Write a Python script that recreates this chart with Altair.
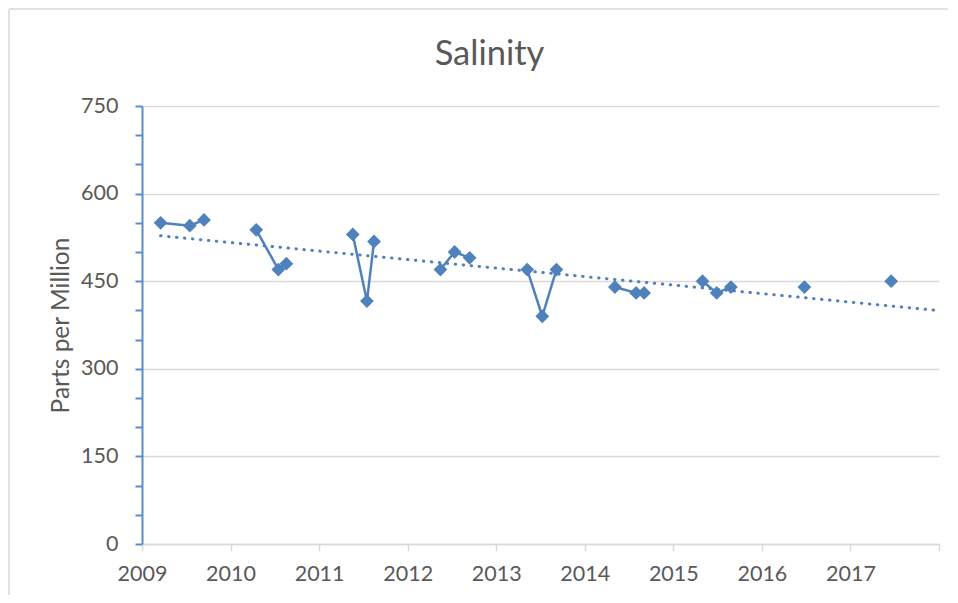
import altair as alt
import pandas as pd

# Sample dates (decimal years) and salinity values (ppm)
dates = [2009.21, 2009.54, 2009.70,
         2010.29, 2010.54, 2010.63,
         2011.38, 2011.54, 2011.62,
         2012.37, 2012.53, 2012.70,
         2013.35, 2013.52, 2013.68,
         2014.34, 2014.58, 2014.67,
         2015.33, 2015.49, 2015.65,
         2016.48,
         2017.46]
ppm = [550, 545, 555,
       538, 470, 480,
       530, 416, 518,
       470, 500, 490,
       470, 390, 470,
       440, 430, 430,
       450, 430, 440,
       440,
       450]
year_ticks = list(range(2009, 2019))
ppm_ticks = list(range(0, 751, 50))

df = pd.DataFrame({"date": dates, "ppm": ppm, "grp": [int(d) for d in dates]})

BLUE = "#4f81bd"
AXBLUE = "#5b8bd0"
GRID = "#d9d9d9"
TXT = "#595959"
FONT = "Lato"

x_enc = alt.X(
    "date:Q",
    scale=alt.Scale(domain=[2009, 2018], nice=False, zero=False),
    axis=alt.Axis(
        values=year_ticks, format="d",
        labelExpr="datum.value == 2018 ? '' : datum.label",
        labelFlush=False, labelOverlap=False,
        title=None, grid=False,
        domainColor=GRID, domainWidth=1.5,
        tickColor=GRID, tickWidth=1.5, tickSize=7,
        labelPadding=12, labelFontSize=21.5, labelColor=TXT, labelFont=FONT,
    ),
)
y_enc = alt.Y(
    "ppm:Q",
    scale=alt.Scale(domain=[0, 750], nice=False),
    axis=alt.Axis(
        values=ppm_ticks,
        labelExpr="datum.value % 150 === 0 ? datum.label : ''",
        labelOverlap=False, labelFlush=False,
        grid=True, gridColor=GRID, gridWidth=1.5,
        gridOpacity={"condition": {"test": "datum.value % 150 === 0", "value": 1}, "value": 0},
        domainColor=AXBLUE, domainWidth=2,
        tickColor=AXBLUE, tickWidth=2, tickSize=7,
        labelPadding=17, labelFontSize=21.5, labelColor=TXT, labelFont=FONT,
        title="Parts per Million", titleFontSize=24.5, titleColor=TXT, titleFont=FONT,
        titleFontWeight="normal", titleX=-74, titleY=219, titleBaseline="alphabetic",
    ),
)

base = alt.Chart(df)

lines = base.mark_line(color=BLUE, strokeWidth=2.5).encode(x=x_enc, y=y_enc, detail="grp:N")
points = base.mark_point(shape="diamond", filled=True, size=190, color=BLUE, opacity=1).encode(x=x_enc, y=y_enc)
trend = (
    base.transform_regression("date", "ppm", extent=[dates[0], 2018])
    .mark_line(color=BLUE, strokeWidth=3, strokeDash=[0.5, 7.5], strokeCap="round")
    .encode(x=x_enc, y=y_enc)
)

dummy = alt.Chart(pd.DataFrame({"k": [0]}))
frame_top = dummy.mark_rule(color=GRID, strokeWidth=1.5).encode(
    x=alt.value(-133), x2=alt.value(806), y=alt.value(-97))
frame_left = dummy.mark_rule(color=GRID, strokeWidth=1.5).encode(
    x=alt.value(-133), y=alt.value(-97), y2=alt.value(520))

chart = (
    alt.layer(lines, trend, points, frame_top, frame_left)
    .properties(
        width=797, height=438,
        title=alt.TitleParams("Salinity", fontSize=34.5, font=FONT, color=TXT, fontWeight="normal",
                              anchor="middle", dx=-51, offset=-91, baseline="alphabetic"),
        autosize=alt.AutoSizeParams(type="none"),
        padding={"left": 134, "top": 98, "right": 11, "bottom": 51},
    )
    .configure_view(stroke=None)
)

chart.save("out.html", embed_options={"renderer": "svg", "actions": False})
